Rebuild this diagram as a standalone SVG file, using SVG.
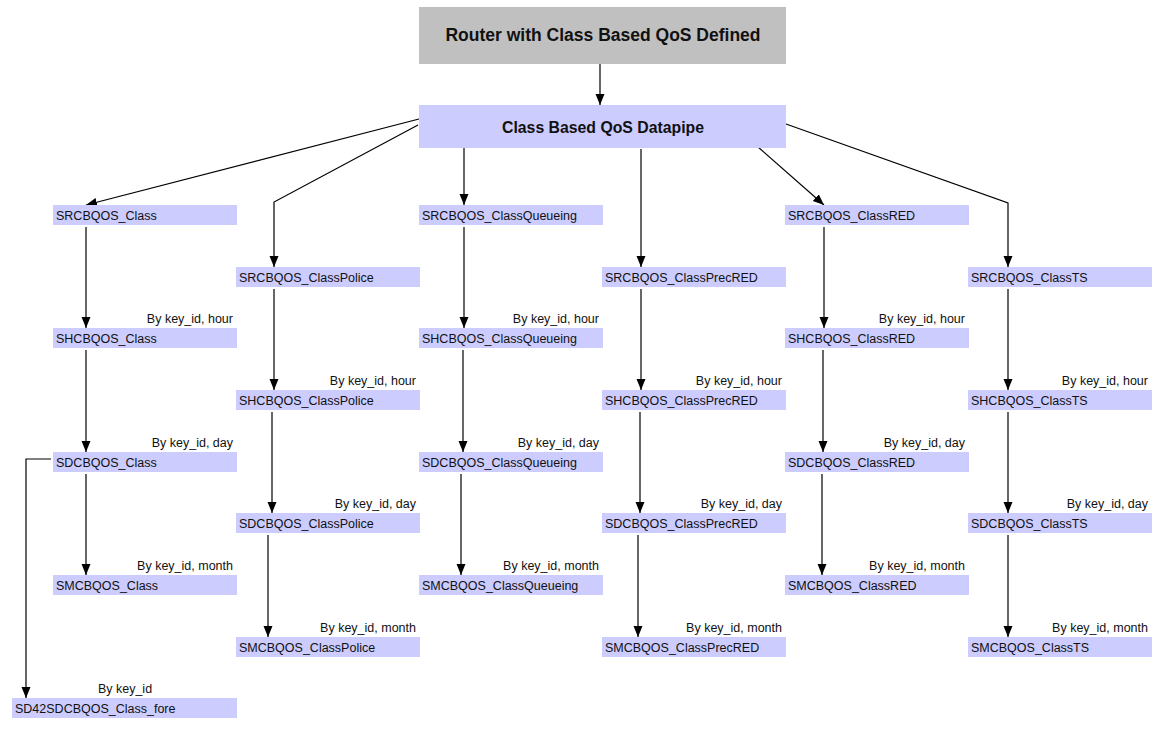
<svg xmlns="http://www.w3.org/2000/svg" width="1160" height="729" viewBox="0 0 1160 729">
<style>
.n{fill:#ccccff}
.t{font-family:"Liberation Sans",Arial,sans-serif;font-size:12.5px;fill:#111}
.l{font-family:"Liberation Sans",Arial,sans-serif;font-size:12.5px;fill:#111;text-anchor:end}
.b{font-family:"Liberation Sans",Arial,sans-serif;font-weight:bold;fill:#111;text-anchor:middle}
.c{stroke:#000;stroke-width:1.2;fill:none}
.a{marker-end:url(#ah)}
</style>
<defs>
<marker id="ah" markerUnits="userSpaceOnUse" markerWidth="12" markerHeight="12" viewBox="0 0 12 12" refX="11" refY="6" orient="auto">
<path d="M0,1.5 L11,6 L0,10.5 Z" fill="#000"/>
</marker>
</defs>
<rect width="1160" height="729" fill="#fff"/>
<g id="connectors">
<line class="c a" x1="600" y1="64" x2="600" y2="105"/>
<line class="c a" x1="419" y1="119" x2="86" y2="205"/>
<polyline class="c a" points="418,125 274,202 274,267"/>
<line class="c a" x1="464" y1="147" x2="464" y2="205"/>
<line class="c a" x1="641" y1="149" x2="641" y2="267"/>
<line class="c a" x1="758" y1="147" x2="824" y2="205"/>
<polyline class="c a" points="786,124 1008,203 1008,267"/>
<line class="c a" x1="86" y1="227" x2="86" y2="328"/>
<line class="c a" x1="86" y1="350" x2="86" y2="452"/>
<line class="c a" x1="86" y1="474" x2="86" y2="575"/>
<polyline class="c a" points="51,459 26,459 26,698"/>
<line class="c a" x1="274" y1="289" x2="274" y2="390"/>
<line class="c a" x1="272" y1="412" x2="272" y2="513"/>
<line class="c a" x1="268" y1="535" x2="268" y2="637"/>
<line class="c a" x1="464" y1="227" x2="464" y2="328"/>
<line class="c a" x1="463" y1="350" x2="463" y2="452"/>
<line class="c a" x1="461" y1="474" x2="461" y2="575"/>
<line class="c a" x1="641" y1="289" x2="641" y2="390"/>
<line class="c a" x1="640" y1="412" x2="640" y2="513"/>
<line class="c a" x1="638" y1="535" x2="638" y2="637"/>
<line class="c a" x1="824" y1="227" x2="824" y2="328"/>
<line class="c a" x1="823" y1="350" x2="823" y2="452"/>
<line class="c a" x1="822" y1="474" x2="822" y2="575"/>
<line class="c a" x1="1008" y1="289" x2="1008" y2="390"/>
<line class="c a" x1="1008" y1="412" x2="1008" y2="513"/>
<line class="c a" x1="1008" y1="535" x2="1008" y2="637"/>
</g>
<g id="labels">
<text class="l" x="233" y="323">By key_id, hour</text>
<text class="l" x="233" y="447">By key_id, day</text>
<text class="l" x="233" y="570">By key_id, month</text>
<text class="t" x="125" y="693" text-anchor="middle">By key_id</text>
<text class="l" x="416" y="385">By key_id, hour</text>
<text class="l" x="416" y="508">By key_id, day</text>
<text class="l" x="416" y="632">By key_id, month</text>
<text class="l" x="599" y="323">By key_id, hour</text>
<text class="l" x="599" y="447">By key_id, day</text>
<text class="l" x="599" y="570">By key_id, month</text>
<text class="l" x="782" y="385">By key_id, hour</text>
<text class="l" x="782" y="508">By key_id, day</text>
<text class="l" x="782" y="632">By key_id, month</text>
<text class="l" x="965" y="323">By key_id, hour</text>
<text class="l" x="965" y="447">By key_id, day</text>
<text class="l" x="965" y="570">By key_id, month</text>
<text class="l" x="1148" y="385">By key_id, hour</text>
<text class="l" x="1148" y="508">By key_id, day</text>
<text class="l" x="1148" y="632">By key_id, month</text>
</g>
<g id="router"><rect x="419" y="7" width="367" height="57" fill="#c0c0c0"/><text class="b" x="603" y="41" font-size="17.5">Router with Class Based QoS Defined</text></g>
<g id="datapipe"><rect class="n" x="419" y="105" width="367" height="43"/><text class="b" x="603" y="133" font-size="15.8">Class Based QoS Datapipe</text></g>
<g id="SRCBQOS_Class"><rect class="n" x="53" y="205" width="184" height="20"/><text class="t" x="56" y="220">SRCBQOS_Class</text></g>
<g id="SHCBQOS_Class"><rect class="n" x="53" y="328" width="184" height="20"/><text class="t" x="56" y="343">SHCBQOS_Class</text></g>
<g id="SDCBQOS_Class"><rect class="n" x="53" y="452" width="184" height="20"/><text class="t" x="56" y="467">SDCBQOS_Class</text></g>
<g id="SMCBQOS_Class"><rect class="n" x="53" y="575" width="184" height="20"/><text class="t" x="56" y="590">SMCBQOS_Class</text></g>
<g id="SD42SDCBQOS_Class_fore"><rect class="n" x="12" y="698" width="225" height="20"/><text class="t" x="15" y="713">SD42SDCBQOS_Class_fore</text></g>
<g id="SRCBQOS_ClassPolice"><rect class="n" x="236" y="267" width="184" height="20"/><text class="t" x="239" y="282">SRCBQOS_ClassPolice</text></g>
<g id="SHCBQOS_ClassPolice"><rect class="n" x="236" y="390" width="184" height="20"/><text class="t" x="239" y="405">SHCBQOS_ClassPolice</text></g>
<g id="SDCBQOS_ClassPolice"><rect class="n" x="236" y="513" width="184" height="20"/><text class="t" x="239" y="528">SDCBQOS_ClassPolice</text></g>
<g id="SMCBQOS_ClassPolice"><rect class="n" x="236" y="637" width="184" height="20"/><text class="t" x="239" y="652">SMCBQOS_ClassPolice</text></g>
<g id="SRCBQOS_ClassQueueing"><rect class="n" x="419" y="205" width="184" height="20"/><text class="t" x="422" y="220">SRCBQOS_ClassQueueing</text></g>
<g id="SHCBQOS_ClassQueueing"><rect class="n" x="419" y="328" width="184" height="20"/><text class="t" x="422" y="343">SHCBQOS_ClassQueueing</text></g>
<g id="SDCBQOS_ClassQueueing"><rect class="n" x="419" y="452" width="184" height="20"/><text class="t" x="422" y="467">SDCBQOS_ClassQueueing</text></g>
<g id="SMCBQOS_ClassQueueing"><rect class="n" x="419" y="575" width="184" height="20"/><text class="t" x="422" y="590">SMCBQOS_ClassQueueing</text></g>
<g id="SRCBQOS_ClassPrecRED"><rect class="n" x="602" y="267" width="184" height="20"/><text class="t" x="605" y="282">SRCBQOS_ClassPrecRED</text></g>
<g id="SHCBQOS_ClassPrecRED"><rect class="n" x="602" y="390" width="184" height="20"/><text class="t" x="605" y="405">SHCBQOS_ClassPrecRED</text></g>
<g id="SDCBQOS_ClassPrecRED"><rect class="n" x="602" y="513" width="184" height="20"/><text class="t" x="605" y="528">SDCBQOS_ClassPrecRED</text></g>
<g id="SMCBQOS_ClassPrecRED"><rect class="n" x="602" y="637" width="184" height="20"/><text class="t" x="605" y="652">SMCBQOS_ClassPrecRED</text></g>
<g id="SRCBQOS_ClassRED"><rect class="n" x="785" y="205" width="184" height="20"/><text class="t" x="788" y="220">SRCBQOS_ClassRED</text></g>
<g id="SHCBQOS_ClassRED"><rect class="n" x="785" y="328" width="184" height="20"/><text class="t" x="788" y="343">SHCBQOS_ClassRED</text></g>
<g id="SDCBQOS_ClassRED"><rect class="n" x="785" y="452" width="184" height="20"/><text class="t" x="788" y="467">SDCBQOS_ClassRED</text></g>
<g id="SMCBQOS_ClassRED"><rect class="n" x="785" y="575" width="184" height="20"/><text class="t" x="788" y="590">SMCBQOS_ClassRED</text></g>
<g id="SRCBQOS_ClassTS"><rect class="n" x="968" y="267" width="184" height="20"/><text class="t" x="971" y="282">SRCBQOS_ClassTS</text></g>
<g id="SHCBQOS_ClassTS"><rect class="n" x="968" y="390" width="184" height="20"/><text class="t" x="971" y="405">SHCBQOS_ClassTS</text></g>
<g id="SDCBQOS_ClassTS"><rect class="n" x="968" y="513" width="184" height="20"/><text class="t" x="971" y="528">SDCBQOS_ClassTS</text></g>
<g id="SMCBQOS_ClassTS"><rect class="n" x="968" y="637" width="184" height="20"/><text class="t" x="971" y="652">SMCBQOS_ClassTS</text></g>
</svg>
